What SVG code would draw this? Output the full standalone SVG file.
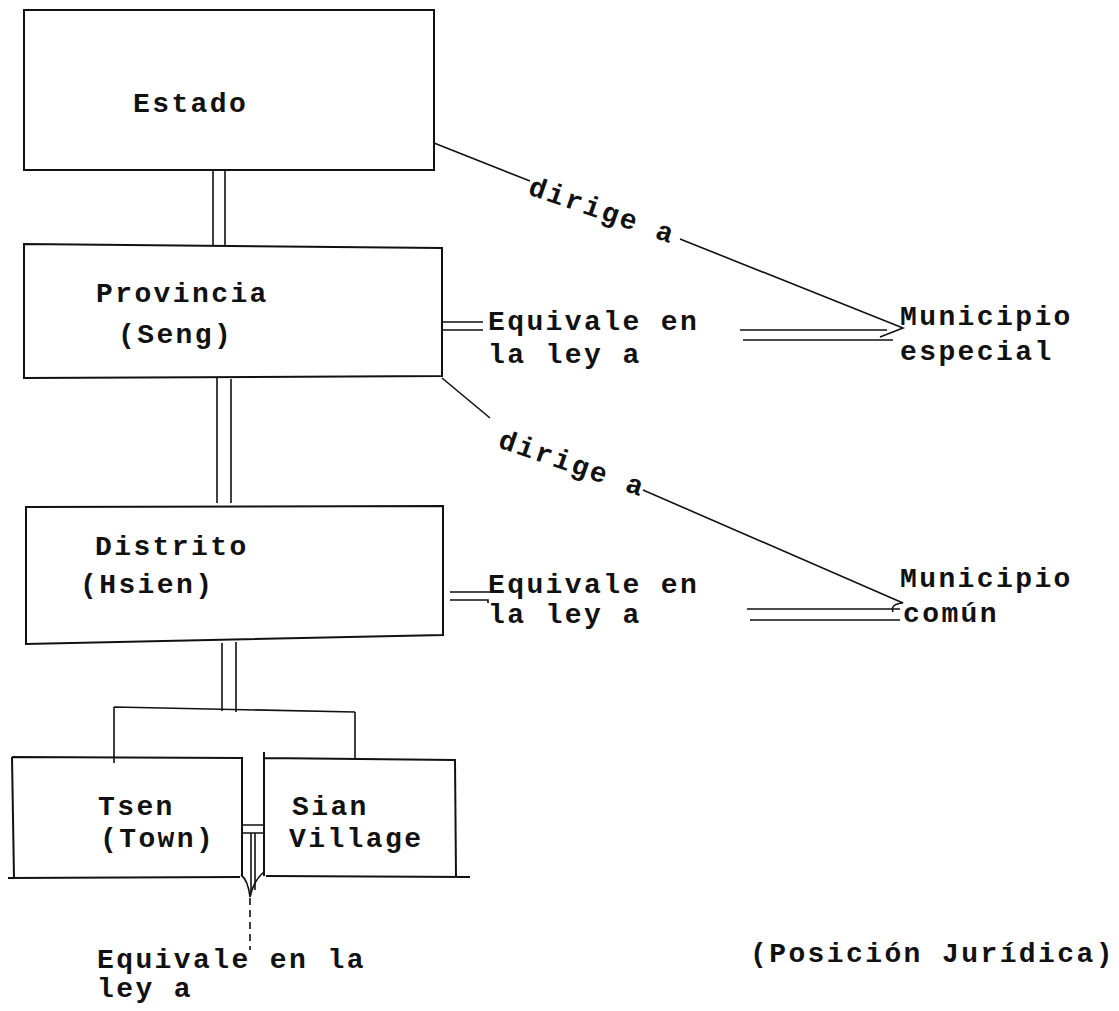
<svg xmlns="http://www.w3.org/2000/svg" width="1119" height="1011" viewBox="0 0 1119 1011">
<style>
.b{fill:none;stroke:#111;stroke-width:2}
.l{fill:none;stroke:#111;stroke-width:1.6}
.t{font-family:"Liberation Mono","DejaVu Sans Mono",monospace;font-weight:bold;font-size:28px;letter-spacing:2.4px;fill:#111}
</style>
<rect width="1119" height="1011" fill="#fff"/>
<g id="estado"><rect class="b" x="24" y="10" width="410" height="160"/><text class="t" x="133" y="112">Estado</text></g>
<g id="provincia"><path class="b" d="M24 244 L442 248 L442 376 L24 378 Z"/><text class="t" x="96" y="302">Provincia</text><text class="t" x="118" y="343">(Seng)</text></g>
<g id="distrito"><path class="b" d="M26 507 L443 506 L443 635 L26 644 Z"/><text class="t" x="95" y="555">Distrito</text><text class="t" x="80" y="593">(Hsien)</text></g>
<g id="tsen"><path class="b" d="M12 757 L242 758 L242 876 M8 878 L240 877 M12 757 L14 878"/><text class="t" x="98" y="815">Tsen</text><text class="t" x="100" y="847">(Town)</text></g>
<g id="sian"><path class="b" d="M264 752 L264 876 M264 758 L455 760 L456 876 M266 876 L470 877"/><text class="t" x="292" y="815">Sian</text><text class="t" x="289" y="847">Village</text></g>
<g id="mun-especial"><text class="t" x="900" y="325">Municipio</text><text class="t" x="900" y="360">especial</text></g>
<g id="mun-comun"><text class="t" x="900" y="587">Municipio</text><text class="t" x="903" y="622">común</text></g>
<g id="label-tsen"><text class="t" x="97" y="968">Equivale en la</text><text class="t" x="97" y="997">ley a</text></g>
<g id="title"><text class="t" x="750" y="962">(Posición Jurídica)</text></g>
<g id="connectors">
<path class="l" d="M213 170 V245 M225 170 V246"/>
<path class="l" d="M217 378 V503 M231 379 V503"/>
<path class="l" d="M222 643 V711 M236 642 V712"/>
<path class="l" d="M114 707 L355 712 M114 707 V763 M355 712 V760"/>
<path class="l" d="M242 825 H263 M242 833 H263 M251 833 V893 M255 833 V890"/>
<path class="l" d="M241 875 Q248 880 250 897 Q254 880 264 872"/>
<path class="l" d="M250 898 V950" stroke-dasharray="7 5"/>
<path class="l" d="M434 143 L530 181 M680 239 L903 328 L880 337"/>
<path class="l" d="M442 322 H483 M442 330 H483 M740 330 H887 M743 340 H893"/>
<g transform="translate(527,194) rotate(19)"><text class="t" x="0" y="0">dirige a</text></g>
<path class="l" d="M442 378 L490 418 M643 490 L903 603 Q890 604 893 612"/>
<path class="l" d="M450 592 H490 M450 600 H488 V603 M747 609 H900 M750 620 H900"/>
<g transform="translate(497,447) rotate(19)"><text class="t" x="0" y="0">dirige a</text></g>
<text class="t" x="488" y="330">Equivale en</text><text class="t" x="488" y="363">la ley a</text>
<text class="t" x="488" y="593">Equivale en</text><text class="t" x="488" y="623">la ley a</text>
</g>
</svg>
